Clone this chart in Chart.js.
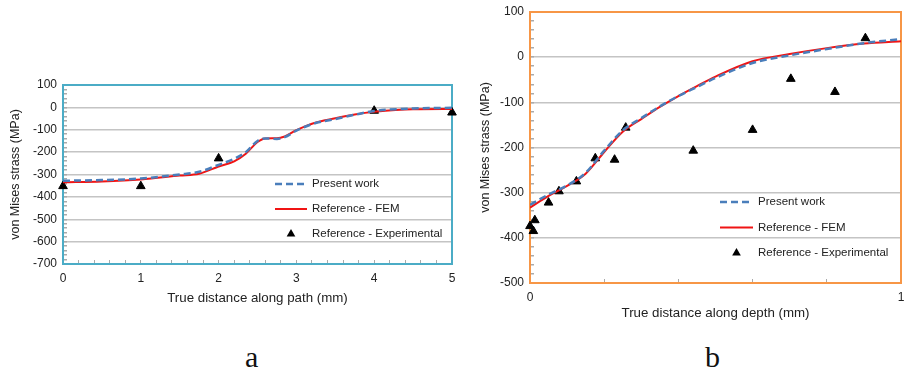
<!DOCTYPE html>
<html>
<head>
<meta charset="utf-8">
<script src="https://cdn.jsdelivr.net/npm/chart.js@4.4.1/dist/chart.umd.min.js"></script>
<style>
  body { margin: 0; background: #fff; width: 907px; height: 373px; position: relative; overflow: hidden; }
  .box { position: absolute; }
  .tag { position: absolute; font-family: "Liberation Serif", "DejaVu Serif", serif; font-size: 30px; line-height: 34px; color: #111; }
</style>
</head>
<body>
<div class="box" style="left:0;top:70px;width:470px;height:240px"><canvas id="chartA"></canvas></div>
<div class="box" style="left:470px;top:0;width:437px;height:325px"><canvas id="chartB"></canvas></div>
<div class="tag" style="left:245px;top:340px">a</div>
<div class="tag" style="left:705px;top:340px">b</div>
<script>
// chart a - along path
const pathX = [0, 0.5, 1, 1.5, 1.75, 2, 2.2, 2.35, 2.5, 2.6, 2.75, 2.85, 3, 3.2, 3.5, 3.75, 4, 4.5, 5];
const presentA = [-328, -325, -318, -300, -288, -257, -230, -200, -150, -139, -141, -133, -104, -75, -52, -33, -16, -5, -2];
const femA = [-335, -331, -322, -305, -297, -264, -241, -207, -155, -139, -138, -130, -102, -73, -49, -32, -20, -8, -7];
const expAx = [0, 1, 2, 4, 5];
const expAy = [-352, -352, -228, -15, -23];

// chart b - along depth
const depthX = [0, 0.05, 0.1, 0.15, 0.2, 0.25, 0.3, 0.35, 0.4, 0.45, 0.5, 0.6, 0.7, 0.8, 0.9, 1];
const presentB = [-327, -304, -284, -256, -207, -162, -135, -109, -86, -66, -46, -13, 4, 18, 31, 40];
const femB = [-333, -307, -285, -258, -210, -165, -137, -110, -86, -64, -43, -9, 7, 20, 30, 35];
const expBx = [0, 0.009, 0.013, 0.05, 0.078, 0.125, 0.176, 0.228, 0.258, 0.44, 0.6, 0.703, 0.822, 0.904];
const expBy = [-374, -385, -361, -322, -297, -275, -224, -227, -156, -207, -161, -48, -77, 42];

const seriesNames = ['Present work', 'Reference - FEM', 'Reference - Experimental'];
const yTitle = 'von Mises strass (MPa)';

const FONT = '"Liberation Sans", Arial, sans-serif';
const BLUE = '#4a7ebb';
const RED = '#f01414';

function pts(xs, ys) {
    return xs.map((x, i) => ({ x: x, y: ys[i] }));
}

function isWhole(v, step) {
    const r = v / step;
    return Math.abs(r - Math.round(r)) < 1e-6;
}

// frame around plot + legend inside the plot
const plotFrame = {
    id: 'plotFrame',
    beforeDatasetsDraw(chart, args, opts) {
        const a = chart.chartArea;
        const ctx = chart.ctx;
        ctx.save();
        ctx.strokeStyle = opts.color;
        ctx.lineWidth = 2;
        ctx.strokeRect(a.left, a.top, a.right - a.left, a.bottom - a.top);
        ctx.restore();
    },
    afterDraw(chart, args, opts) {
        const ctx = chart.ctx;
        ctx.save();
        ctx.font = '11.5px ' + FONT;
        ctx.textBaseline = 'middle';
        ctx.fillStyle = '#222';
        chart.data.datasets.forEach((ds, i) => {
            const y = opts.y + i * opts.gap;
            const x = opts.x;
            if (ds.showLine) {
                ctx.save();
                ctx.strokeStyle = ds.borderColor;
                ctx.lineWidth = ds.borderWidth;
                ctx.setLineDash(ds.borderDash || []);
                ctx.beginPath();
                ctx.moveTo(x, y);
                ctx.lineTo(x + opts.len, y);
                ctx.stroke();
                ctx.restore();
            } else {
                ctx.fillStyle = '#000';
                Chart.helpers.drawPoint(ctx, { pointStyle: 'triangle', radius: 5, rotation: 0 }, x + opts.len / 2, y);
                ctx.fillStyle = '#222';
            }
            ctx.fillText(ds.label, x + opts.len + 5, y);
        });
        ctx.restore();
    }
};

function makeChart(id, o) {
    return new Chart(document.getElementById(id), {
        type: 'scatter',
        data: {
            datasets: [
                { label: seriesNames[0], data: pts(o.lx, o.present), showLine: true, borderColor: BLUE, backgroundColor: BLUE,
                  borderWidth: 2.5, borderDash: [7, 4], pointRadius: 0, cubicInterpolationMode: 'monotone' },
                { label: seriesNames[1], data: pts(o.lx, o.fem), showLine: true, borderColor: RED, backgroundColor: RED,
                  borderWidth: 2, pointRadius: 0, cubicInterpolationMode: 'monotone' },
                { label: seriesNames[2], data: pts(o.ex, o.ey), showLine: false, pointStyle: 'triangle',
                  pointRadius: 5, backgroundColor: '#000', borderColor: '#000', borderWidth: 1, clip: false }
            ]
        },
        options: {
            responsive: true,
            maintainAspectRatio: false,
            animation: false,
            layout: { padding: o.pad },
            plugins: {
                legend: { display: false },
                tooltip: { enabled: false },
                plotFrame: o.frame
            },
            scales: {
                x: {
                    type: 'linear', min: o.xmin, max: o.xmax,
                    afterFit: s => { s.height = o.xh; s.paddingLeft = 0; s.paddingRight = 0; },
                    border: { display: false },
                    // minor tick marks point into the plot
                    grid: { drawOnChartArea: false, tickLength: -4, tickColor: '#aaa' },
                    ticks: {
                        stepSize: 0.2, autoSkip: false, maxRotation: 0, padding: 11,
                        color: '#222', font: { family: FONT, size: 12 },
                        callback: o.xlabel
                    },
                    title: { display: true, text: o.xtitle, color: '#222', font: { family: FONT, size: 13.3 }, padding: { top: 4, bottom: 4 } }
                },
                y: {
                    min: o.ymin, max: 100,
                    afterFit: s => { s.width = o.yw; s.paddingTop = 0; s.paddingBottom = 0; },
                    border: { display: false },
                    grid: {
                        color: c => isWhole(c.tick.value, 100) ? '#c4c4c4' : 'rgba(0,0,0,0)',
                        lineWidth: 1.5, tickLength: -4, tickColor: '#aaa'
                    },
                    ticks: {
                        stepSize: 20, autoSkip: false, padding: 10,
                        color: '#222', font: { family: FONT, size: 12 },
                        callback: v => isWhole(v, 100) ? String(Math.round(v)) : ''
                    },
                    title: { display: true, text: yTitle, color: '#222', font: { family: FONT, size: 12.5 }, padding: { top: 8, bottom: 4 } }
                }
            }
        },
        plugins: [plotFrame]
    });
}

makeChart('chartA', {
    lx: pathX, present: presentA, fem: femA, ex: expAx, ey: expAy,
    xmin: 0, xmax: 5, ymin: -700, yw: 63, xh: 46,
    pad: { top: 15, right: 18, bottom: 0, left: 0 },
    xtitle: 'True distance along path (mm)',
    xlabel: v => isWhole(v, 1) ? String(Math.round(v)) : '',
    frame: { color: '#4bacc6', x: 275, y: 114, gap: 25, len: 32 }
});

makeChart('chartB', {
    lx: depthX, present: presentB, fem: femB, ex: expBx, ey: expBy,
    xmin: 0, xmax: 1, ymin: -500, yw: 60, xh: 42,
    pad: { top: 12, right: 3, bottom: 0, left: 0 },
    xtitle: 'True distance along depth (mm)',
    xlabel: v => (v === 0 || v === 1) ? String(v) : '',
    frame: { color: '#f79646', x: 250, y: 202, gap: 25.5, len: 33 }
});
</script>
</body>
</html>
